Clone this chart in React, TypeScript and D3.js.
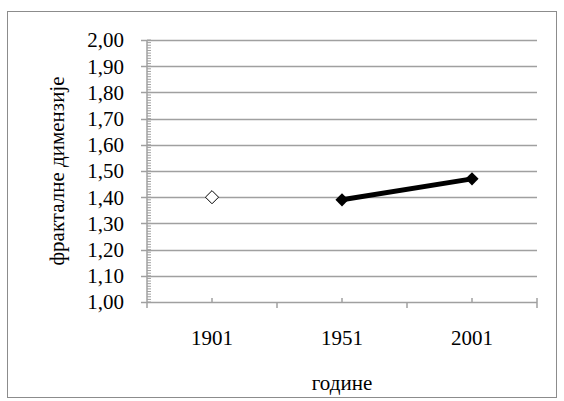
import { useEffect, useRef } from "react";
import * as d3 from "d3";

const years = ["1901", "1951", "2001"];
// the 1901 value stands on its own with an open marker
const openValues: (number | null)[] = [1.4, null, null];
const lineValues: (number | null)[] = [null, 1.39, 1.47];
const yTicks = [1.0, 1.1, 1.2, 1.3, 1.4, 1.5, 1.6, 1.7, 1.8, 1.9, 2.0];

const W = 564;
const H = 401;

export default function App() {
  const svgRef = useRef<SVGSVGElement>(null);

  useEffect(() => {
    if (!svgRef.current) return;
    const svg = d3.select(svgRef.current);
    svg.selectAll("*").remove();

    const left = 147;
    const right = 537;
    const top = 40;
    const bottom = 302;
    const grid = "#a0a0a0";

    const x = d3.scaleBand<string>().domain(years).range([left, right]);
    const y = d3.scaleLinear().domain([1, 2]).range([bottom, top]);
    const cx = (d: string) => (x(d) ?? 0) + x.bandwidth() / 2;

    // outer frame
    svg
      .append("rect")
      .attr("x", 7.5)
      .attr("y", 11.5)
      .attr("width", 549)
      .attr("height", 386)
      .attr("fill", "#fff")
      .attr("stroke", "#8c8c8c")
      .attr("stroke-width", 1);

    // horizontal gridlines
    svg
      .append("g")
      .selectAll("line")
      .data(yTicks.filter((t) => t > 1))
      .join("line")
      .attr("x1", left)
      .attr("x2", right)
      .attr("y1", (d) => Math.round(y(d)) + 0.5)
      .attr("y2", (d) => Math.round(y(d)) + 0.5)
      .attr("stroke", grid)
      .attr("stroke-width", 1.5);

    // minor y ticks (inside)
    const minor = d3.range(100, 201).map((v) => v / 100);
    svg
      .append("g")
      .selectAll("line")
      .data(minor)
      .join("line")
      .attr("x1", left)
      .attr("x2", left + 4)
      .attr("y1", (d) => y(d))
      .attr("y2", (d) => y(d))
      .attr("stroke", grid)
      .attr("stroke-width", 1);

    // major y ticks (outside)
    svg
      .append("g")
      .selectAll("line")
      .data(yTicks)
      .join("line")
      .attr("x1", left - 6)
      .attr("x2", left)
      .attr("y1", (d) => Math.round(y(d)) + 0.5)
      .attr("y2", (d) => Math.round(y(d)) + 0.5)
      .attr("stroke", grid)
      .attr("stroke-width", 1.5);

    // y axis line
    svg
      .append("line")
      .attr("x1", left)
      .attr("x2", left)
      .attr("y1", top)
      .attr("y2", bottom)
      .attr("stroke", grid)
      .attr("stroke-width", 1.5);

    // x axis line
    svg
      .append("line")
      .attr("x1", left)
      .attr("x2", right)
      .attr("y1", Math.round(y(1)) + 0.5)
      .attr("y2", Math.round(y(1)) + 0.5)
      .attr("stroke", grid)
      .attr("stroke-width", 1.5);

    // category boundary ticks (outside) and center ticks (inside)
    const bounds = [...years.map((d) => x(d) ?? 0), right];
    svg
      .append("g")
      .selectAll("line")
      .data(bounds)
      .join("line")
      .attr("x1", (d) => d)
      .attr("x2", (d) => d)
      .attr("y1", (d, i) => (i === bounds.length - 1 ? bottom - 4 : bottom))
      .attr("y2", bottom + 6)
      .attr("stroke", grid)
      .attr("stroke-width", 1.5);
    svg
      .append("g")
      .selectAll("line")
      .data(years)
      .join("line")
      .attr("x1", (d) => cx(d))
      .attr("x2", (d) => cx(d))
      .attr("y1", bottom - 4)
      .attr("y2", bottom)
      .attr("stroke", grid)
      .attr("stroke-width", 1.5);

    const labels = svg.append("g").attr("class", "serif");

    // y tick labels
    labels
      .append("g")
      .selectAll("text")
      .data(yTicks)
      .join("text")
      .attr("x", 124)
      .attr("y", (d) => y(d))
      .attr("dy", "0.35em")
      .attr("text-anchor", "end")
      .text((d) => d3.format(".2f")(d).replace(".", ","));

    // x tick labels
    labels
      .append("g")
      .selectAll("text")
      .data(years)
      .join("text")
      .attr("x", (d) => cx(d))
      .attr("y", 338)
      .attr("dy", "0.35em")
      .attr("text-anchor", "middle")
      .text((d) => d);

    // axis titles
    labels
      .append("text")
      .attr("x", 342)
      .attr("y", 383)
      .attr("dy", "0.35em")
      .attr("text-anchor", "middle")
      .text("године");
    labels
      .append("text")
      .attr("transform", `translate(57,${(top + bottom) / 2}) rotate(-90)`)
      .attr("dy", "0.35em")
      .attr("text-anchor", "middle")
      .text("фракталне димензије");

    // series line
    const pts = years
      .map((d, i) => ({ d, v: lineValues[i] }))
      .filter((p) => p.v != null) as { d: string; v: number }[];
    const line = d3
      .line<{ d: string; v: number }>()
      .x((p) => cx(p.d))
      .y((p) => y(p.v));
    svg
      .append("path")
      .datum(pts)
      .attr("d", line)
      .attr("fill", "none")
      .attr("stroke", "#000")
      .attr("stroke-width", 5);

    const diamond = d3.symbol(d3.symbolDiamond2, 110);
    svg
      .append("g")
      .selectAll("path")
      .data(pts)
      .join("path")
      .attr("d", diamond)
      .attr("transform", (p) => `translate(${cx(p.d)},${y(p.v)})`)
      .attr("fill", "#000");

    // open marker
    const open = years
      .map((d, i) => ({ d, v: openValues[i] }))
      .filter((p) => p.v != null) as { d: string; v: number }[];
    svg
      .append("g")
      .selectAll("path")
      .data(open)
      .join("path")
      .attr("d", diamond)
      .attr("transform", (p) => `translate(${cx(p.d)},${y(p.v)})`)
      .attr("fill", "#fff")
      .attr("stroke", "#000")
      .attr("stroke-width", 1);
  }, []);

  return (
    <div style={{ position: "fixed", left: 0, top: 0, background: "#fff" }}>
      <style>{`.serif text { font-family: "Liberation Serif", "Times New Roman", Times, serif; font-size: 21px; fill: #000; }`}</style>
      <svg ref={svgRef} width={W} height={H} style={{ display: "block" }} />
    </div>
  );
}
